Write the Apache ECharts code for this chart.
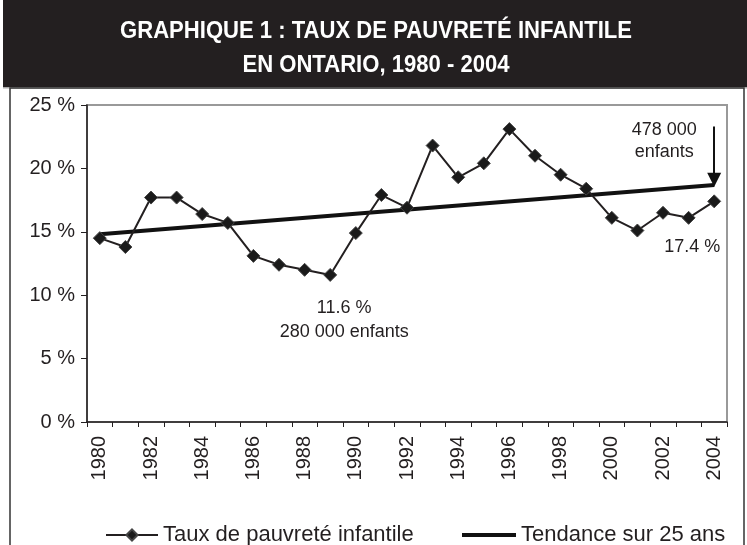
<!DOCTYPE html>
<html>
<head>
<meta charset="utf-8">
<script src="https://cdn.jsdelivr.net/npm/echarts@6/dist/echarts.min.js"></script>
<style>
html,body{margin:0;padding:0;background:#fff;}
#c{width:747px;height:545px;}
</style>
</head>
<body>
<div id="c"></div>
<script>
var years = ['1980','1981','1982','1983','1984','1985','1986','1987','1988','1989','1990','1991','1992','1993','1994','1995','1996','1997','1998','1999','2000','2001','2002','2003','2004'];
var rates = [14.5,13.8,17.7,17.7,16.4,15.7,13.1,12.4,12.0,11.6,14.9,17.9,16.9,21.8,19.3,20.4,23.1,21.0,19.5,18.4,16.1,15.1,16.5,16.1,17.4];
var trendStart = ['1980', 14.8];
var trendEnd = ['2004', 18.7];
var yTicks = {min: 0, max: 25, interval: 5};
var seriesNames = ['Taux de pauvreté infantile', 'Tendance sur 25 ans'];
var titleLines = ['GRAPHIQUE 1 : TAUX DE PAUVRETÉ INFANTILE', 'EN ONTARIO, 1980 - 2004'];

var ink = '#231f20';
var font = 'Liberation Sans, Arial, sans-serif';
var legendText = {color: ink, fontSize: 22, fontFamily: font};
var titleStyle = function (t) {
  return {text: t, fill: '#fff', font: 'bold 24px "Liberation Sans", Arial, sans-serif', textAlign: 'center', textVerticalAlign: 'middle'};
};
var chart = echarts.init(document.getElementById('c'));
chart.setOption({
  backgroundColor: '#fff',
  animation: false,
  graphic: [
    {type: 'rect', z: -10, shape: {x: 3, y: 0, width: 744, height: 87}, style: {fill: ink}},
    {type: 'rect', z: -9, shape: {x: 3, y: 87, width: 744, height: 1.5}, style: {fill: '#aaa'}},
    {type: 'rect', z: -9, shape: {x: 10, y: 88, width: 734, height: 470}, style: {fill: 'none', stroke: '#333', lineWidth: 1.5}},
    {type: 'text', x: 376, y: 31, scaleX: 0.92, style: titleStyle(titleLines[0])},
    {type: 'text', x: 376, y: 65, scaleX: 0.92, style: titleStyle(titleLines[1])}
  ],
  grid: {left: 87, top: 105, right: 20, bottom: 123, show: true, borderColor: '#999', borderWidth: 2, backgroundColor: 'transparent'},
  legend: [
    {left: 100, top: 519, itemWidth: 52, itemHeight: 14, textStyle: legendText, data: [seriesNames[0]]},
    {left: 457, top: 519, itemWidth: 54, itemHeight: 4, itemGap: 0, textStyle: legendText,
     data: [{name: seriesNames[1], icon: 'rect'}]}
  ],
  xAxis: {
    type: 'category', data: years, boundaryGap: true,
    axisLine: {lineStyle: {color: ink, width: 1.5}},
    axisTick: {show: true, interval: 0, length: 5, lineStyle: {color: ink}},
    axisLabel: {interval: 1, rotate: 90, fontSize: 20, color: ink, margin: 14, fontFamily: font},
    splitLine: {show: false}
  },
  yAxis: {
    type: 'value', min: yTicks.min, max: yTicks.max, interval: yTicks.interval,
    axisLine: {show: true, lineStyle: {color: ink, width: 1.5}},
    axisTick: {show: true, length: 6, lineStyle: {color: ink}},
    axisLabel: {formatter: '{value} %', fontSize: 20, color: ink, margin: 12, fontFamily: font},
    splitLine: {show: false}
  },
  series: [
    {
      name: seriesNames[0], type: 'line', data: rates,
      symbol: 'diamond', symbolSize: 13, showAllSymbol: true,
      lineStyle: {color: ink, width: 2},
      itemStyle: {color: '#1a1a1a', borderColor: '#444', borderWidth: 1},
      z: 3,
      markPoint: {
        symbol: 'circle', symbolSize: 0,
        label: {show: true, color: ink, fontSize: 18, lineHeight: 24, fontFamily: font},
        data: [
          {coord: ['1989', 11.6], label: {formatter: '11.6 %\n280 000 enfants', offset: [14, 45]}},
          {coord: ['2004', 17.4], label: {formatter: '17.4 %', offset: [-22, 46]}}
        ]
      }
    },
    {
      name: seriesNames[1], type: 'line', data: [trendStart, trendEnd],
      symbol: 'none', lineStyle: {color: '#111', width: 4}, itemStyle: {color: '#111'},
      z: 2,
      markLine: {
        silent: true, symbol: ['none', 'triangle'], symbolSize: [14, 14], symbolRotate: 180,
        lineStyle: {color: '#111', width: 2, type: 'solid'},
        label: {show: false},
        data: [[{coord: ['2004', 23.3]}, {coord: ['2004', 19.1]}]]
      },
      markPoint: {
        symbol: 'circle', symbolSize: 0,
        label: {show: true, color: ink, fontSize: 18, lineHeight: 22, fontFamily: font},
        data: [{coord: ['2004', 23.3], label: {formatter: '478 000\nenfants', offset: [-50, 14]}}]
      }
    }
  ]
});
</script>
</body>
</html>
